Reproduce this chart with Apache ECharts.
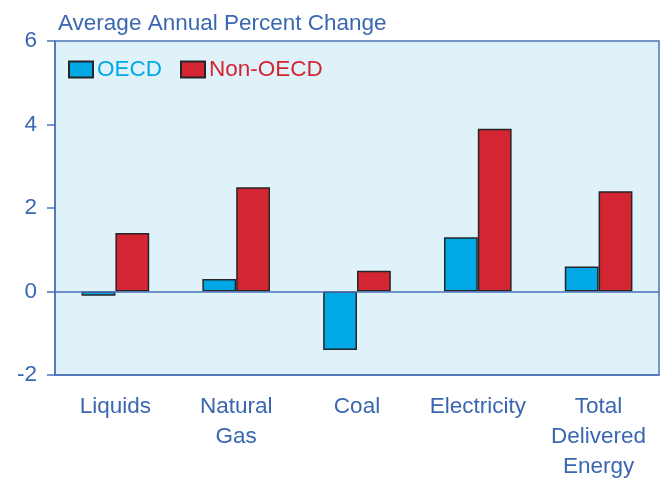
<!DOCTYPE html>
<html>
<head>
<meta charset="utf-8">
<script src="https://cdn.jsdelivr.net/npm/echarts@6/dist/echarts.min.js"></script>
<style>
  html, body { margin: 0; padding: 0; background: #fff; }
  #chart { width: 661px; height: 478px; }
</style>
</head>
<body>
<div id="chart"></div>
<script>
// Average annual percent change by fuel, OECD vs Non-OECD
const categories = ['Liquids', 'Natural\nGas', 'Coal', 'Electricity', 'Total\nDelivered\nEnergy'];
const oecd = [-0.1, 0.3, -1.4, 1.3, 0.6];
const nonOecd = [1.4, 2.5, 0.5, 3.9, 2.4];
const yTicks = { min: -2, max: 6, interval: 2 };

const TEXT = '#3a67b1';
const AXIS = '#4a73b8';
const OECD_COLOR = '#00a8e6';
const NON_COLOR = '#d42532';
const FONT = 'Liberation Sans, Arial, sans-serif';
const FS = 22.5;

const chart = echarts.init(document.getElementById('chart'));

chart.setOption({
  animation: false,
  title: {
    text: 'Average Annual Percent Change',
    left: 53, top: 7,
    textStyle: { color: TEXT, fontSize: FS, fontWeight: 'normal', fontFamily: FONT },
  },
  legend: {
    left: 63, top: 53, icon: 'rect',
    itemWidth: 24, itemHeight: 16, itemGap: 18,
    textStyle: { fontSize: FS, fontFamily: FONT, padding: [0, 0, 0, -1] },
    data: [
      { name: 'OECD', textStyle: { color: OECD_COLOR } },
      { name: 'Non-OECD', textStyle: { color: NON_COLOR } },
    ],
  },
  grid: {
    left: 55, right: 2, top: 41, bottom: 103,
    outerBoundsMode: 'none', containLabel: false,
    show: true, backgroundColor: '#dff2fa',
    borderColor: AXIS, borderWidth: 1.5,
  },
  xAxis: {
    type: 'category', data: categories,
    axisLine: { onZero: false, lineStyle: { color: AXIS, width: 1.5 } },
    axisTick: { alignWithLabel: true, length: 8, lineStyle: { color: AXIS, width: 1.5 } },
    axisLabel: { interval: 0, hideOverlap: false, color: TEXT, fontSize: FS, fontFamily: FONT, margin: 17, lineHeight: 30 },
  },
  yAxis: {
    type: 'value', min: yTicks.min, max: yTicks.max, interval: yTicks.interval,
    axisLine: { show: true, lineStyle: { color: AXIS, width: 1.5 } },
    axisTick: { show: true, length: 8, lineStyle: { color: AXIS, width: 1.5 } },
    axisLabel: { color: TEXT, fontSize: FS, fontFamily: FONT, margin: 18 },
    splitLine: { show: false },
  },
  series: [
    {
      name: 'OECD', type: 'bar', data: oecd,
      barGap: '0%', barCategoryGap: '44%',
      itemStyle: { color: OECD_COLOR, borderColor: '#262626', borderWidth: 1.5 },
      markLine: {
        silent: true, symbol: 'none', label: { show: false },
        lineStyle: { color: AXIS, width: 1.5, type: 'solid' },
        data: [{ yAxis: 0 }],
      },
    },
    {
      name: 'Non-OECD', type: 'bar', data: nonOecd,
      barGap: '0%', barCategoryGap: '44%',
      itemStyle: { color: NON_COLOR, borderColor: '#262626', borderWidth: 1.5 },
    },
  ],
});
</script>
</body>
</html>
